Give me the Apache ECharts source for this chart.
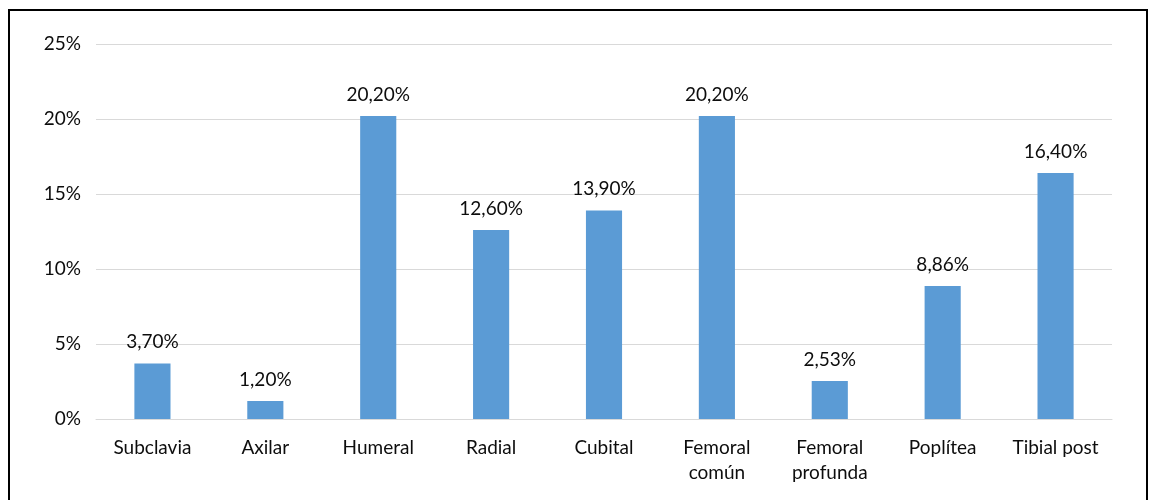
<!DOCTYPE html>
<html><head><meta charset="utf-8">
<style>html,body{margin:0;padding:0;background:#fff}#c{width:1152px;height:500px}</style>
<script src="https://cdn.jsdelivr.net/npm/echarts@6/dist/echarts.min.js"></script>
</head><body><div id="c"></div>
<script>
var categories = ['Subclavia','Axilar','Humeral','Radial','Cubital','Femoral\ncomún','Femoral\nprofunda','Poplítea','Tibial post'];
var values = [3.70, 1.20, 20.20, 12.60, 13.90, 20.20, 2.53, 8.86, 16.40];
var yTicks = [0, 5, 10, 15, 20, 25];
var font = 'Lato, "Open Sans", sans-serif';
var chart = echarts.init(document.getElementById('c'));
chart.setOption({
  animation: false,
  grid: {left: 96, right: 40, top: 44, bottom: 81},
  graphic: [{type: 'rect', shape: {x: 9, y: 10, width: 1138, height: 520}, style: {fill: 'none', stroke: '#000', lineWidth: 2}, silent: true}],
  xAxis: {
    type: 'category', data: categories,
    axisLine: {lineStyle: {color: '#d9d9d9', width: 1}},
    axisTick: {show: false},
    axisLabel: {color: '#0d0d0d', fontSize: 19, fontFamily: font, margin: 16, lineHeight: 25, interval: 0}
  },
  yAxis: {
    type: 'value', min: yTicks[0], max: yTicks[yTicks.length-1], interval: 5,
    axisLine: {show: false}, axisTick: {show: false},
    splitLine: {lineStyle: {color: '#d9d9d9', width: 1}},
    axisLabel: {color: '#0d0d0d', fontSize: 19, fontFamily: font, margin: 15, formatter: function(v){return v + '%';}}
  },
  series: [{
    type: 'bar', data: values, barWidth: '32%',
    itemStyle: {color: '#5b9bd5'},
    label: {show: true, position: 'top', distance: 12, color: '#0d0d0d', fontSize: 19, fontFamily: font,
      formatter: function(p){return p.value.toFixed(2).replace('.', ',') + '%';}}
  }]
});
</script></body></html>
